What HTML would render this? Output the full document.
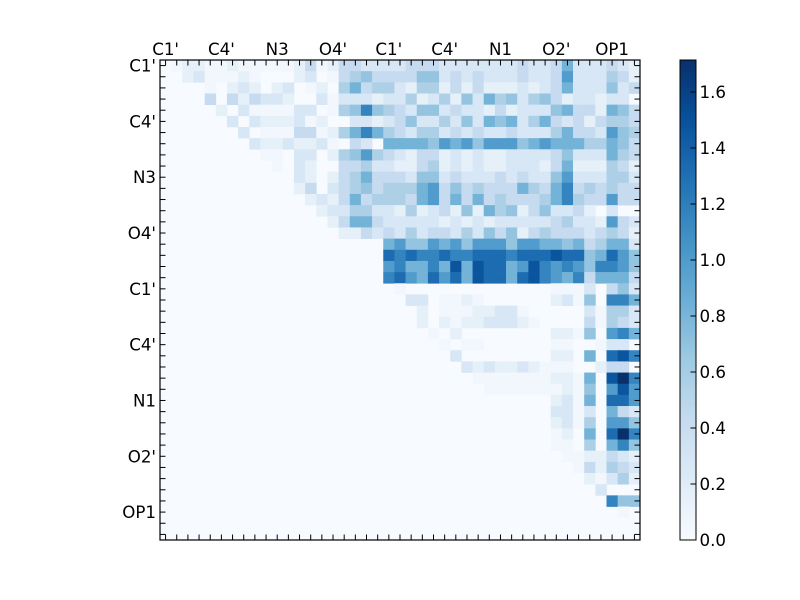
<!DOCTYPE html>
<html><head><meta charset="utf-8"><style>
html,body{margin:0;padding:0;background:#fff;overflow:hidden;}
svg{display:block;}
text{font-family:"DejaVu Sans","Liberation Sans",sans-serif;font-size:16.67px;fill:#000;}
</style></head><body>
<svg id="s" width="800" height="600" viewBox="0 0 800 600" xmlns="http://www.w3.org/2000/svg">
<defs>
<linearGradient id="cb" x1="0" y1="1" x2="0" y2="0">
<stop offset="0" stop-color="#f7fbff"/>
<stop offset="0.125" stop-color="#deebf7"/>
<stop offset="0.25" stop-color="#c6dbef"/>
<stop offset="0.375" stop-color="#9ecae1"/>
<stop offset="0.5" stop-color="#6baed6"/>
<stop offset="0.625" stop-color="#4292c6"/>
<stop offset="0.75" stop-color="#2171b5"/>
<stop offset="0.875" stop-color="#08519c"/>
<stop offset="1" stop-color="#08306b"/>
</linearGradient>
</defs>
<rect width="800" height="600" fill="#fff"/>
<rect x="160" y="60" width="480" height="480" fill="#f7fbff"/>
<g id="cells"></g>
<g id="ticks" stroke="#000" stroke-width="1"></g>
<rect x="160" y="60" width="480" height="480" fill="none" stroke="#000" stroke-width="1.2"/>

<g text-anchor="middle">
<text x="165.6" y="55">C1'</text>
<text x="221.4" y="55">C4'</text>
<text x="277.2" y="55">N3</text>
<text x="333.0" y="55">O4'</text>
<text x="388.8" y="55">C1'</text>
<text x="444.7" y="55">C4'</text>
<text x="500.5" y="55">N1</text>
<text x="556.3" y="55">O2'</text>
<text x="612.1" y="55">OP1</text>
</g>
<g text-anchor="end">
<text x="156" y="71.6">C1'</text>
<text x="156" y="127.4">C4'</text>
<text x="156" y="183.2">N3</text>
<text x="156" y="239.0">O4'</text>
<text x="156" y="294.8">C1'</text>
<text x="156" y="350.7">C4'</text>
<text x="156" y="406.5">N1</text>
<text x="156" y="462.3">O2'</text>
<text x="156" y="518.1">OP1</text>
</g>

<rect x="680" y="60" width="16" height="480" fill="url(#cb)" stroke="#000" stroke-width="1"/>
<g stroke="#000" stroke-width="1">
<line x1="696" y1="540" x2="690.5" y2="540"/>
<line x1="696" y1="484" x2="690.5" y2="484"/>
<line x1="696" y1="428" x2="690.5" y2="428"/>
<line x1="696" y1="372" x2="690.5" y2="372"/>
<line x1="696" y1="316" x2="690.5" y2="316"/>
<line x1="696" y1="260" x2="690.5" y2="260"/>
<line x1="696" y1="204" x2="690.5" y2="204"/>
<line x1="696" y1="148" x2="690.5" y2="148"/>
<line x1="696" y1="92" x2="690.5" y2="92"/>
</g>
<g>
<text x="699.5" y="546">0.0</text>
<text x="699.5" y="490">0.2</text>
<text x="699.5" y="434">0.4</text>
<text x="699.5" y="378">0.6</text>
<text x="699.5" y="322">0.8</text>
<text x="699.5" y="266">1.0</text>
<text x="699.5" y="210">1.2</text>
<text x="699.5" y="154">1.4</text>
<text x="699.5" y="98">1.6</text>
</g>
</svg>
<script>
(function(){
var Z="00000000000000000000|";
var rows=[
"0-11--1-----13-13322|22333222222232236222321",
"0012---1-000120-3453|33355232322232237222431",
"0000-01210120-104634|42144131311121236222523",
"000030313221002-2221|22412415264524531221220",
"00000102----220-4585|43255232213122256331653",
"0000002021112-100221|23522425265624632313443",
"000000020---33-14686|43244232322322246332754",
"000000002112112-0320|66665767577756766644653",
"000000000--022014574|32133121211222235222643",
"0000000000-021003342|21134121211222136111431",
"00000000000021013463|33255232223232257222442",
"00000000000013023453|44467353433364368343433",
"00000000000001213634|44367363634333468433733",
"00000000000000122442|21412315164513522310200",
"00000000000000013663|22222121212222234221732",
"00000000000000001132|32423324253513433323431",
Z+"67557675777577665634662",
Z+"989889889998999a9956975",
Z+"786686a6a9967a878758875",
Z+"89769796a9969a876836663",
Z+"0-0000000000000---20352",
Z+"00220--1-00000012-50886",
Z+"00010---1122-000002-442",
Z+"000101-112221-00003-432",
Z+"0000-010000000011-50786",
Z+"00000-0--000000--00-220",
Z+"000000200000000110609a8",
Z+"00000002121121---001330",
Z+"00000000-------11-60ab8",
Z+"000000000-------1-507a7",
Z+"00000000000000012-60997",
Z+"00000000000000022-20632",
Z+"00000000000000012-40775",
Z+"000000000000000-10609b8",
Z+"000000000000000--040685",
Z+"0000000000000000--11321",
Z+"00000000000000000-31432",
Z+"0000000000000000001-241",
Z+"00000000000000000002000",
Z+"00000000000000000000855",
Z+"000000000000000000000-0",
Z+"00000000000000000000000",
Z+"00000000000000000000000"
];
var col={"0":null,"-":"#f1f7fd","1":"#e6f0f9","2":"#d8e7f5","3":"#c6dbef","4":"#add0e6","5":"#94c4df","6":"#74b3d8","7":"#519ccc","8":"#3484bf","9":"#1d6cb1","a":"#0b559f","b":"#08306b"};
var NS="http://www.w3.org/2000/svg";
var g=document.getElementById("cells");
var w=480/43;
for(var r=0;r<rows.length;r++){
  var s=rows[r].replace("|","");
  for(var c=0;c<43&&c<s.length;c++){
    var cc=col[s.charAt(c)];
    if(!cc) continue;
    var e=document.createElementNS(NS,"rect");
    e.setAttribute("x",(160+c*w).toFixed(2));
    e.setAttribute("y",(60+r*w).toFixed(2));
    var ww=(c==42)?w:(w+0.35);
    var hh=(r==42)?w:(w+0.35);
    e.setAttribute("width",ww.toFixed(2));
    e.setAttribute("height",hh.toFixed(2));
    e.setAttribute("fill",cc);
    g.appendChild(e);
  }
}
var t=document.getElementById("ticks");
function ln(x1,y1,x2,y2){var e=document.createElementNS(NS,"line");e.setAttribute("x1",x1);e.setAttribute("y1",y1);e.setAttribute("x2",x2);e.setAttribute("y2",y2);t.appendChild(e);}
for(var i=0;i<43;i++){
  var px=(160+(i+0.5)*w).toFixed(2);
  var py=(60+(i+0.5)*w).toFixed(2);
  ln(px,60,px,65.5);
  ln(px,540,px,534.5);
  ln(160,py,165.5,py);
  ln(640,py,634.5,py);
}
})();
</script>
</body></html>
